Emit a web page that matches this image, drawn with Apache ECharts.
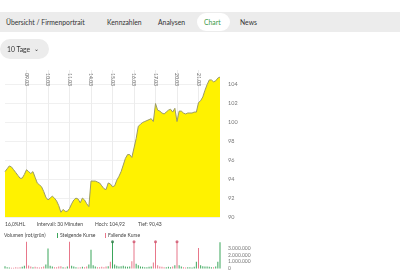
<!DOCTYPE html>
<html><head><meta charset="utf-8">
<script src="https://cdn.jsdelivr.net/npm/echarts@6/dist/echarts.min.js"></script>
<style>
html,body{margin:0;padding:0;background:#fff;width:400px;height:271px;overflow:hidden;font-family:Lato,"Open Sans",sans-serif;}
#chart{position:absolute;left:0;top:0;width:400px;height:271px;}
.nav{position:absolute;left:0;top:12px;width:400px;height:20px;background:#ececec;}
.nav span{position:absolute;top:0;line-height:20px;font-size:6.8px;color:#333;}
.pill{position:absolute;left:197px;top:13px;width:33px;height:18px;background:#fff;border-radius:9px;}
.drop{position:absolute;left:0;top:39px;width:49px;height:20px;background:#ececec;border-radius:10px;font-size:6.8px;color:#333;line-height:20px;}
.info{position:absolute;font-size:5px;color:#444;white-space:nowrap;}
</style></head>
<body>
<div id="chart"></div>
<div class="nav">
  <div class="pill" style="top:1px"></div>
  <span style="left:6px">Übersicht / Firmenportrait</span>
  <span style="left:107px">Kennzahlen</span>
  <span style="left:158px">Analysen</span>
  <span style="left:204px;color:#3a9a4a">Chart</span>
  <span style="left:240px">News</span>
</div>
<div class="drop"><span style="position:absolute;left:7px">10 Tage</span><span style="position:absolute;left:34px;font-size:6px;">&#8964;</span></div>
<div class="info" style="left:5px;top:221px">16,0%HL</div>
<div class="info" style="left:37px;top:221px">Intervall: 30 Minuten</div>
<div class="info" style="left:95px;top:221px">Hoch: 104,92</div>
<div class="info" style="left:138px;top:221px">Tief: 90,43</div>
<div class="info" style="left:4px;top:232px">Volumen (rot/grün)</div>
<div class="info" style="left:57px;top:232px"><span style="display:inline-block;width:1px;height:5px;background:#3aa55a;vertical-align:-1px;margin-right:2px"></span>Steigende Kurse</div>
<div class="info" style="left:105px;top:232px"><span style="display:inline-block;width:1px;height:5px;background:#e8778a;vertical-align:-1px;margin-right:2px"></span>Fallende Kurse</div>
<script>
// Day tick labels (placed at the first bar of each day)
const dateLabels = ["09.03","10.03","11.03","14.03","15.03","16.03","17.03","20.03","21.03"];
const barsPerDay = 10;
// Price (30-minute bars)
const prices = [
 94.8,95.1,95.4,95.3,95.0,94.7,94.4,94.1,94.1,94.5,
 95.0,94.8,94.6,94.8,94.2,93.6,93.4,93.2,92.7,92.1,
 91.8,92.0,92.2,92.0,91.7,91.2,90.5,90.8,90.6,90.6,
 90.9,91.4,91.8,92.0,91.9,91.5,92.0,91.8,91.4,91.1,
 93.8,93.8,93.8,93.7,93.6,93.3,93.0,92.9,93.6,93.5,
 93.2,93.3,93.9,94.3,94.8,95.5,96.2,96.6,96.6,96.3,
 97.3,98.3,99.6,99.8,100.0,100.1,100.2,100.3,100.4,100.1,
 102.0,101.3,101.2,101.0,100.9,101.1,101.3,101.4,101.1,101.5,
 100.1,101.2,101.2,101.0,100.9,101.0,101.0,101.0,101.1,101.1,
 102.1,102.3,102.7,103.4,104.0,104.5,104.5,104.3,104.4,104.7,
 104.8];
// Volume in millions
const volumes = [
 0.35,0.2,0.15,0.1,0.12,0.2,0.15,0.18,0.25,0.4,
 4.0,0.45,0.3,0.2,0.25,0.2,0.15,0.2,0.3,0.6,
 3.0,0.4,0.3,0.2,0.2,0.3,0.35,0.2,0.15,0.3,
 4.0,0.4,0.3,0.2,0.15,0.2,0.25,0.2,0.3,0.6,
 2.8,0.5,0.3,0.2,0.2,0.25,0.2,0.3,0.35,1.0,
 4.0,0.6,0.4,0.3,0.35,0.4,0.3,0.25,0.3,1.1,
 4.0,0.7,0.5,0.3,0.25,0.2,0.2,0.25,0.3,0.9,
 4.0,0.5,0.3,0.25,0.2,0.2,0.25,0.2,0.3,0.5,
 4.0,0.5,0.3,0.2,0.15,0.2,0.2,0.15,0.25,1.0,
 3.05,0.5,0.35,0.3,0.3,0.25,0.2,0.2,0.3,1.0,
 3.9];
// 1 = steigend (green), 0 = fallend (red)
const volumeUp = [
 1,1,1,0,0,0,0,0,1,1,
 0,0,0,1,0,0,0,0,0,1,
 1,1,1,0,0,0,0,1,0,1,
 0,1,1,1,0,0,1,0,0,1,
 1,1,1,0,0,0,0,0,1,0,
 1,1,1,1,1,1,1,1,1,0,
 0,1,1,1,1,1,1,1,1,0,
 0,0,0,0,0,1,1,1,0,1,
 0,1,1,0,0,1,1,1,1,1,
 0,1,1,1,1,1,1,0,1,1,
 1];
// bars marked with a dot
const markedBars = [50,60,70,80];
const priceTicks = [90,92,94,96,98,100,102,104];

const n = prices.length;
const cats = prices.map((_, i) => (i % barsPerDay === 0 && i > 0 && i / barsPerDay <= dateLabels.length) ? dateLabels[i / barsPerDay - 1] : '');
const isDayStart = (i) => i % barsPerDay === 0 && i > 0 && i < n - 1;
const GREEN = '#3aa55a', RED = '#e8778a';
const fmtVol = v => v === 0 ? '0' : (v * 1e6).toFixed(0).replace(/\B(?=(\d{3})+(?!\d))/g, '.');

const chart = echarts.init(document.getElementById('chart'), null, {renderer: 'canvas'});
chart.setOption({
  animation: false,
  grid: [
    {left: 5, top: 70, width: 215, height: 147},
    {left: 5, top: 241.7, width: 215, height: 27.3}
  ],
  xAxis: [
    {type: 'category', gridIndex: 0, data: cats, boundaryGap: false, position: 'top',
     axisLine: {show: false}, axisTick: {show: false},
     axisLabel: {inside: true, rotate: 90, interval: (i) => isDayStart(i), fontSize: 5, color: '#666',
       margin: 3, padding: [8, 0, 0, 0], fontFamily: 'Lato'},
     splitLine: {show: true, interval: (i) => isDayStart(i), lineStyle: {color: '#ececec', width: 1}}},
    {type: 'category', gridIndex: 1, data: cats, boundaryGap: false,
     axisLine: {show: false}, axisTick: {show: false}, axisLabel: {show: false}, splitLine: {show: false}}
  ],
  yAxis: [
    {type: 'value', gridIndex: 0, position: 'right', min: priceTicks[0], max: 105.55, interval: 2,
     axisLine: {show: false}, axisTick: {show: false},
     axisLabel: {fontSize: 5.5, color: '#777', margin: 8, showMaxLabel: false, fontFamily: 'Lato',
       formatter: v => priceTicks.includes(v) ? String(v) : ''},
     splitLine: {showMaxLine: false, lineStyle: {color: '#f0f0f0'}}},
    {type: 'value', gridIndex: 1, position: 'right', min: 0, max: 4, interval: 1,
     axisLine: {show: false}, axisTick: {show: false},
     axisLabel: {fontSize: 5, color: '#777', margin: 8, fontFamily: 'Lato',
       formatter: v => v <= 3 ? fmtVol(v) : ''},
     splitLine: {show: false}}
  ],
  series: [
    {type: 'line', xAxisIndex: 0, yAxisIndex: 0, data: prices, symbol: 'none',
     lineStyle: {color: '#9a9a66', width: 1},
     areaStyle: {color: '#fff200', opacity: 1, origin: 'start'}},
    {type: 'bar', xAxisIndex: 1, yAxisIndex: 1, barWidth: 1,
     data: volumes.map((v, i) => ({value: v, itemStyle: {color: volumeUp[i] ? GREEN : RED}}))},
    {type: 'scatter', xAxisIndex: 1, yAxisIndex: 1, symbolSize: 3,
     data: markedBars.map(i => ({value: [i, volumes[i]], itemStyle: {color: volumeUp[i] ? '#2c7a44' : '#d0506a'}}))}
  ]
});
</script>
</body></html>
